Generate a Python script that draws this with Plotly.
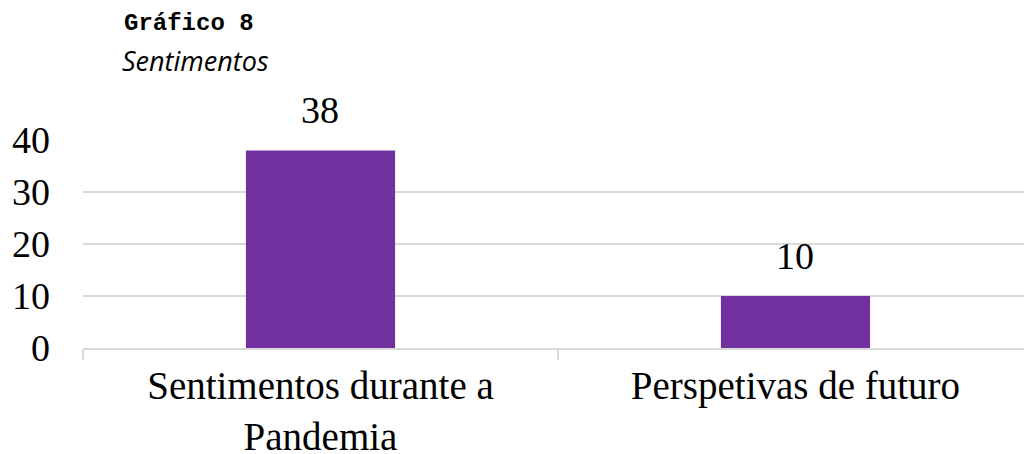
import plotly.graph_objects as go

categories = ["Sentimentos durante a<br>Pandemia", "Perspetivas de futuro"]
values = [38, 10]
y_ticks = [0, 10, 20, 30, 40]
title_main = "Gráfico 8"
title_sub = "Sentimentos"

BAR = "#7030A0"
GRID = "#d9d9d9"
SERIF = "Liberation Serif, Times New Roman, serif"

fig = go.Figure()
fig.add_trace(go.Bar(
    x=categories, y=values, width=0.314,
    marker=dict(color=BAR, line=dict(width=0)),
    hoverinfo="skip",
))

for c, v in zip(categories, values):
    fig.add_annotation(x=c, y=v, text=str(v), showarrow=False,
                       xanchor="center", yanchor="bottom", yshift=17,
                       font=dict(family=SERIF, size=38, color="#000000"))

fig.add_annotation(xref="paper", yref="paper", x=(122 - 83) / 941, y=(348 - 8) / 208,
                   xanchor="left", yanchor="top", text="<b>" + title_main + "</b>",
                   showarrow=False,
                   font=dict(family="Liberation Mono, Courier New, monospace", size=24, color="#000000"))
fig.add_annotation(xref="paper", yref="paper", x=(120 - 83) / 941, y=(348 - 40) / 208,
                   xanchor="left", yanchor="top", text="<i>" + title_sub + "</i>",
                   showarrow=False,
                   font=dict(family="Open Sans, Noto Sans, sans-serif", size=27, color="#000000"))

fig.update_layout(
    width=1024, height=454,
    margin=dict(l=83, r=0, t=140, b=106, autoexpand=False),
    paper_bgcolor="white", plot_bgcolor="white",
    showlegend=False,
    xaxis=dict(
        type="category", range=[-0.5, 1.4811], automargin=False,
        showline=True, linecolor=GRID, linewidth=2,
        ticks="outside", tickson="boundaries", ticklen=10, tickcolor=GRID, tickwidth=2,
        ticklabelstandoff=2,
        tickfont=dict(family=SERIF, size=39, color="#000000"),
        showgrid=False, fixedrange=True,
    ),
    yaxis=dict(
        range=[0, 40], tickvals=y_ticks, ticktext=[str(t) for t in y_ticks],
        automargin=False,
        showgrid=True, gridcolor=GRID, gridwidth=2, zeroline=False,
        showline=False, ticks="", ticklabelstandoff=32,
        tickfont=dict(family=SERIF, size=38, color="#000000"),
        fixedrange=True,
    ),
)

fig.write_html("out.html")
